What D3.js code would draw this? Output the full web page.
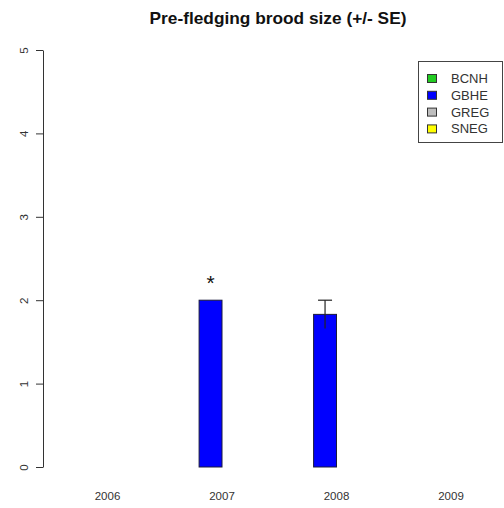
<!DOCTYPE html>
<html>
<head>
<meta charset="utf-8">
<script src="https://cdn.jsdelivr.net/npm/d3@7"></script>
<style>
  html, body { margin: 0; padding: 0; background: #fff; }
  svg { display: block; }
</style>
</head>
<body>
<svg id="chart" width="504" height="508"></svg>
<script>
// Survey years and species codes
const years = ["2006", "2007", "2008", "2009"];
const species = ["BCNH", "GBHE", "GREG", "SNEG"];
const speciesColors = ["#22cc22", "#0000ff", "#bebebe", "#ffff00"];

// Mean pre-fledging brood size per species, one value per year (null = no data)
const bcnhMean = [null, null, null, null];
const gbheMean = [null, 2.0, 1.83, null];
const gregMean = [null, null, null, null];
const snegMean = [null, null, null, null];

// Standard errors matching the means above
const bcnhSE = [null, null, null, null];
const gbheSE = [null, null, 0.17, null];
const gregSE = [null, null, null, null];
const snegSE = [null, null, null, null];

// Bars flagged with an asterisk (single nest, no SE)
const gbheFlag = [false, true, false, false];

const yTicks = [0, 1, 2, 3, 4, 5];

const means = [bcnhMean, gbheMean, gregMean, snegMean];
const ses = [bcnhSE, gbheSE, gregSE, snegSE];
const noFlags = [false, false, false, false];
const flags = [noFlags, gbheFlag, noFlags, noFlags];

const svg = d3.select("#chart");
const textColor = "#333";
const font = "'Liberation Sans', Arial, sans-serif";

const y = d3.scaleLinear().domain([0, 5]).range([467, 50]);
const x0 = d3.scaleBand().domain(years).range([50.25, 508.25])
  .paddingInner(0.2).paddingOuter(0.1);
const x1 = d3.scaleBand().domain(species).range([0, x0.bandwidth()]);

// Title
svg.append("text")
  .attr("x", 278).attr("y", 24)
  .attr("text-anchor", "middle")
  .attr("font-family", font)
  .attr("font-weight", "bold")
  .attr("font-size", 17.3)
  .attr("fill", "#111")
  .text("Pre-fledging brood size (+/- SE)");

// Y axis
const yAxis = d3.axisLeft(y).tickValues(yTicks).tickSize(7).tickSizeOuter(0).tickFormat(d3.format("d"));
const gy = svg.append("g").attr("transform", "translate(43,0)").call(yAxis);
gy.select(".domain").attr("stroke", textColor);
gy.selectAll(".tick line").attr("stroke", textColor);
gy.selectAll(".tick text")
  .attr("x", 0).attr("dy", 0)
  .attr("transform", "translate(-19,0) rotate(-90)")
  .attr("text-anchor", "middle")
  .attr("dominant-baseline", "central")
  .attr("font-family", font)
  .attr("font-size", 11.5)
  .attr("fill", textColor);

// X category labels (no axis line)
svg.append("g").selectAll("text")
  .data(years)
  .join("text")
  .attr("x", d => x0(d) + x0.bandwidth() / 2)
  .attr("y", 500)
  .attr("text-anchor", "middle")
  .attr("font-family", font)
  .attr("font-size", 11.5)
  .attr("fill", textColor)
  .text(d => d);

// Bars
const barData = [];
species.forEach((sp, si) => {
  years.forEach((yr, yi) => {
    const v = means[si][yi];
    if (v != null) barData.push({ sp, si, yr, v, se: ses[si][yi], flag: flags[si][yi] });
  });
});

svg.append("g").selectAll("rect")
  .data(barData)
  .join("rect")
  .attr("x", d => x0(d.yr) + x1(d.sp))
  .attr("y", d => y(d.v))
  .attr("width", x1.bandwidth())
  .attr("height", d => y(0) - y(d.v))
  .attr("fill", d => speciesColors[d.si])
  .attr("stroke", "#1a1a3a")
  .attr("stroke-width", 1);

// Error bars
const ebG = svg.append("g").attr("stroke", "#222").attr("stroke-width", 1.2);
barData.filter(d => d.se != null).forEach(d => {
  const cx = x0(d.yr) + x1(d.sp) + x1.bandwidth() / 2;
  ebG.append("line")
    .attr("x1", cx).attr("x2", cx)
    .attr("y1", y(d.v - d.se)).attr("y2", y(d.v + d.se));
  ebG.append("line")
    .attr("x1", cx - 7).attr("x2", cx + 7)
    .attr("y1", y(d.v + d.se)).attr("y2", y(d.v + d.se));
});

// Asterisk markers
svg.append("g").selectAll("text")
  .data(barData.filter(d => d.flag))
  .join("text")
  .attr("x", d => x0(d.yr) + x1(d.sp) + x1.bandwidth() / 2)
  .attr("y", d => y(d.v) - 10)
  .attr("text-anchor", "middle")
  .attr("font-family", font)
  .attr("font-size", 21)
  .attr("fill", "#111")
  .text("*");

// Legend
const lg = svg.append("g").attr("transform", "translate(418,61)");
lg.append("rect")
  .attr("x", 0.5).attr("y", 0.5)
  .attr("width", 84).attr("height", 81)
  .attr("fill", "#fff")
  .attr("stroke", "#444");
species.forEach((sp, i) => {
  const ry = 17.5 + i * 16.8;
  lg.append("rect")
    .attr("x", 9.5).attr("y", ry - 4)
    .attr("width", 9).attr("height", 8)
    .attr("fill", speciesColors[i])
    .attr("stroke", "#333");
  lg.append("text")
    .attr("x", 33).attr("y", ry)
    .attr("dominant-baseline", "central")
    .attr("font-family", font)
    .attr("font-size", 13)
    .attr("fill", textColor)
    .text(sp);
});
</script>
</body>
</html>
